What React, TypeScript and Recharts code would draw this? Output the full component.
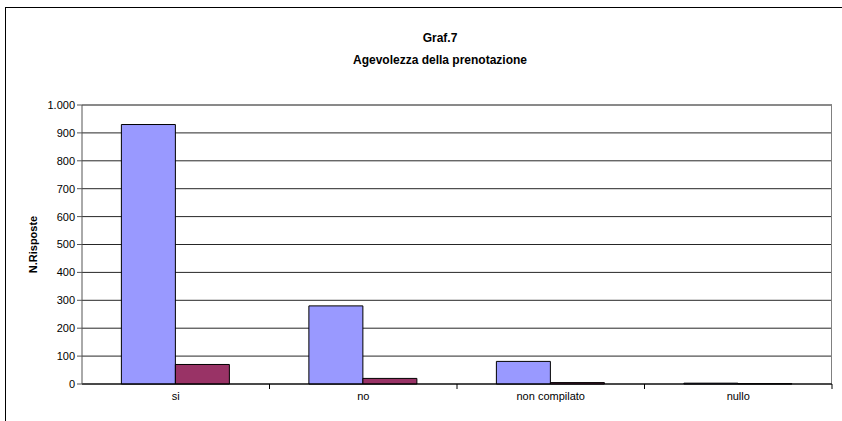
import React from 'react';
import { BarChart, Bar, XAxis, YAxis, CartesianGrid } from 'recharts';

const categories = ['si', 'no', 'non compilato', 'nullo'];
const seriesA = [930, 280, 81, 3];
const seriesB = [70, 20, 5, 1];
const yTicks = [0, 100, 200, 300, 400, 500, 600, 700, 800, 900, 1000];

const data = categories.map((name, i) => ({ name, a: seriesA[i], b: seriesB[i] }));

const FONT = '"Liberation Sans", Arial, sans-serif';
const BAND = 750 / 4;

// Excel-style thousands separator: 1000 -> "1.000"
const fmt = (v: number) => String(v).replace(/\B(?=(\d{3})+(?!\d))/g, '.');

const CategoryTick = (props: any) => {
  const { x, y, payload } = props;
  return (
    <g>
      <line x1={x + BAND / 2} y1={y} x2={x + BAND / 2} y2={y + 5} stroke="#000" />
      <text x={x} y={y + 16} textAnchor="middle" fontSize={11} fontFamily={FONT} fill="#000">
        {payload.value}
      </text>
    </g>
  );
};

export default function App() {
  return (
    <div style={{ position: 'absolute', left: 0, top: 0, width: 842, height: 421, overflow: 'hidden', background: '#fff' }}>
      <div style={{ position: 'absolute', left: 5, top: 7, width: 860, height: 440, border: '1px solid #000' }} />
      <div style={{ position: 'absolute', left: 0, top: 27, width: 880, textAlign: 'center', fontFamily: FONT, fontWeight: 'bold', fontSize: 12, lineHeight: '22px', color: '#000' }}>
        <div>Graf.7</div>
        <div>Agevolezza della prenotazione</div>
      </div>
      <div style={{ position: 'absolute', left: 0, top: 0 }}>
        <BarChart
          width={842}
          height={421}
          data={data}
          margin={{ top: 105, right: 10, left: 0, bottom: 7 }}
          barCategoryGap="21%"
          barGap={0}
        >
          <CartesianGrid vertical={false} stroke="#000" strokeOpacity={0.85} />
          <CartesianGrid horizontal={false} verticalPoints={[831.5]} stroke="#808080" />
          <CartesianGrid vertical={false} horizontalPoints={[105]} stroke="#808080" />
          <XAxis
            dataKey="name"
            height={30}
            stroke="#000"
            tickLine={false}
            tickSize={0}
            tickMargin={0}
            tick={<CategoryTick />}
            interval={0}
          />
          <YAxis
            width={82}
            domain={[0, 1000]}
            ticks={yTicks}
            interval={0}
            tickFormatter={fmt}
            tickSize={5}
            stroke="#555"
            tick={{ fill: '#000', fontSize: 11, fontFamily: FONT }}
            label={{
              value: 'N.Risposte',
              angle: -90,
              position: 'insideLeft',
              offset: 33,
              style: { fontFamily: FONT, fontSize: 11, fontWeight: 'bold', fill: '#000', textAnchor: 'middle' },
            }}
          />
          <Bar dataKey="a" fill="#9999FF" stroke="#000" strokeWidth={1} isAnimationActive={false} />
          <Bar dataKey="b" fill="#993366" stroke="#000" strokeWidth={1} isAnimationActive={false} />
        </BarChart>
      </div>
    </div>
  );
}
